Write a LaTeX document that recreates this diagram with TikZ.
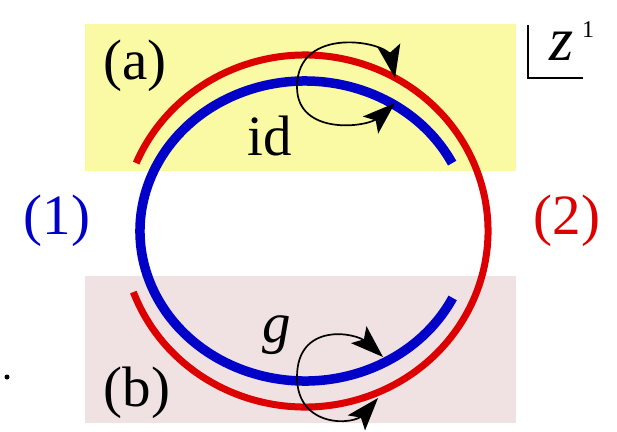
\documentclass[tikz,border=0pt]{standalone}
\usepackage{fontspec}
\setmainfont{Liberation Serif}
\newfontfamily\tms{Liberation Serif}
\definecolor{cblue}{RGB}{0,0,200}
\definecolor{cred}{RGB}{220,0,0}
\definecolor{byellow}{RGB}{250,250,165}
\definecolor{bpink}{RGB}{240,226,226}
\begin{document}
\begin{tikzpicture}[x=1pt,y=1pt,
  lbl/.style={inner sep=0pt, font=\tms\fontsize{57}{60}\selectfont},
  loopline/.style={line width=1.7pt},
  tiphead/.style={fill=black},
  redring/.style={cred, line width=7pt},
  bluering/.style={cblue, line width=9.5pt}]
\useasboundingbox (0,0) rectangle (617,-431);
% backgrounds
\fill[byellow] (85,-24) rectangle (516,-171);
\fill[bpink] (85,-276) rectangle (516,-423);
% rings
\coordinate (c) at (305,-231);
\draw[redring] (c) ++(200.3:183 and 176) arc[start angle=200.3, end angle=517.3, x radius=183, y radius=176];
\draw[bluering] (c) ++(26.9:165 and 150) arc[start angle=26.9, end angle=333.5, x radius=165, y radius=150];
% loop (a)
\coordinate (a1) at (395,-78);
\coordinate (a1n) at (391,-56.4);
\coordinate (a2) at (395,-103);
\coordinate (a2n) at (378.7,-117.7);
\draw[loopline] (a1n) .. controls (388.3,-41.7) and (297,-24) .. (297,-87) .. controls (297,-136) and (367.6,-127.7) .. (a2n);
\fill[tiphead, shift={(a1)}, rotate=-79.5] (0,0) -- (-33,11.5) -- (-26,0) -- (-33,-11.5) -- cycle;
\fill[tiphead, shift={(a2)}, rotate=42] (0,0) -- (-33,11.5) -- (-26,0) -- (-33,-11.5) -- cycle;
% loop (b)
\coordinate (b1) at (383,-357);
\coordinate (b1n) at (366.8,-342.1);
\coordinate (b2) at (378,-398);
\coordinate (b2n) at (363.6,-414.6);
\draw[loopline] (b1n) .. controls (355.8,-332) and (297,-322) .. (297,-377) .. controls (297,-428) and (353.8,-425.9) .. (b2n);
\fill[tiphead, shift={(b1)}, rotate=-42.6] (0,0) -- (-33,11.5) -- (-26,0) -- (-33,-11.5) -- cycle;
\fill[tiphead, shift={(b2)}, rotate=49] (0,0) -- (-33,11.5) -- (-26,0) -- (-33,-11.5) -- cycle;
% labels
\node[lbl] (la) at (135,-66) {(a)};
\node[lbl] (lb) at (137,-393) {(b)};
\node[lbl, text=cblue] (l1) at (57,-221) {(1)};
\node[lbl, text=cred] (l2) at (567,-221) {(2)};
\node[lbl] (lid) at (270,-136) {id};
\node[lbl] (lg) at (277,-335) {\itshape g};
\node[lbl, font=\tms\fontsize{62}{64}\selectfont] (lz) at (562,-46) {\itshape z};
\node[inner sep=0pt, font=\tms\fontsize{24}{26}\selectfont] (lsup) at (588,-30) {1};
\coordinate (k1) at (528,-25);
\coordinate (k2) at (528,-78);
\coordinate (k3) at (583,-78);
\draw[line width=2pt] (k1) -- (k2) -- (k3);
\fill (7,-377) circle (2.5);
\end{tikzpicture}
\end{document}
